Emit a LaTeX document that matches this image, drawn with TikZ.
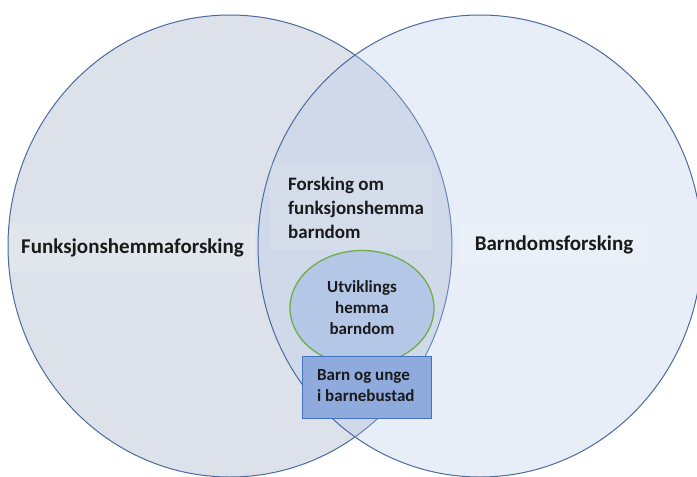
\documentclass[tikz,border=0pt]{standalone}
\usepackage{fontspec}
\setmainfont{Carlito}
\usetikzlibrary{shapes.geometric}
\definecolor{leftfill}{HTML}{DDE2EA}
\definecolor{rightfill}{HTML}{B4C7E7}
\definecolor{edgeblue}{HTML}{4A6BA0}
\definecolor{greenedge}{HTML}{70AD47}
\definecolor{innerfill}{HTML}{B4C7E7}
\definecolor{rectfill}{HTML}{8FAADC}
\definecolor{rectedge}{HTML}{4472C4}
\definecolor{txt}{HTML}{1A1A1A}
\tikzset{
  bigset/.style={ellipse, inner sep=0pt, minimum width=444pt, minimum height=462pt, draw=edgeblue, line width=1pt},
  labelband/.style={fill=white, fill opacity=0.12, inner sep=0pt},
  bigtext/.style={inner sep=0pt, text=txt, font=\bfseries\fontsize{21}{25}\selectfont},
  midtext/.style={inner sep=0pt, text=txt, font=\bfseries\fontsize{19}{24}\selectfont, align=left},
  innertext/.style={inner sep=0pt, text=txt, font=\bfseries\fontsize{17}{21}\selectfont},
}
\begin{document}
\begin{tikzpicture}[x=1pt,y=-1pt]
\useasboundingbox (0,0) rectangle (697,477);
\clip (0,0) rectangle (697,477);
\fill[white] (0,0) rectangle (697,477);
\node[bigset, fill=leftfill] (leftset) at (230,246) {};
\node[bigset, fill=rightfill, fill opacity=0.3] (rightset) at (480,246) {};
% label bands
\node[labelband, minimum width=245pt, minimum height=49pt] (funkband) at (132.5,247.5) {};
\node[bigtext] (funk) at (funkband) {Funksjonshemmaforsking};
\node[labelband, minimum width=188pt, minimum height=41pt] (barnband) at (554,244.5) {};
\node[bigtext] (barn) at (barnband) {Barndomsforsking};
\node[labelband, minimum width=162pt, minimum height=87pt] (omband) at (351,206.5) {};
\node[midtext, anchor=north west] (om) at (288,177) {Forsking om\\funksjonshemma\\barndom};
% inner ellipse
\node[ellipse, inner sep=0pt, minimum width=144pt, minimum height=115pt, fill=innerfill, draw=greenedge, line width=1.3pt] (utv) at (362,308) {};
\node[innertext, align=center] (utvtext) at (utv) {Utviklings\\hemma\\barndom};
% rectangle
\node[rectangle, inner sep=0pt, minimum width=129pt, minimum height=62pt, fill=rectfill, draw=rectedge, line width=1pt] (bub) at (366.5,387.5) {};
\node[innertext, align=left, anchor=north west] (bubtext) at (317,369.5) {Barn og unge\\i barnebustad};
\end{tikzpicture}
\end{document}
